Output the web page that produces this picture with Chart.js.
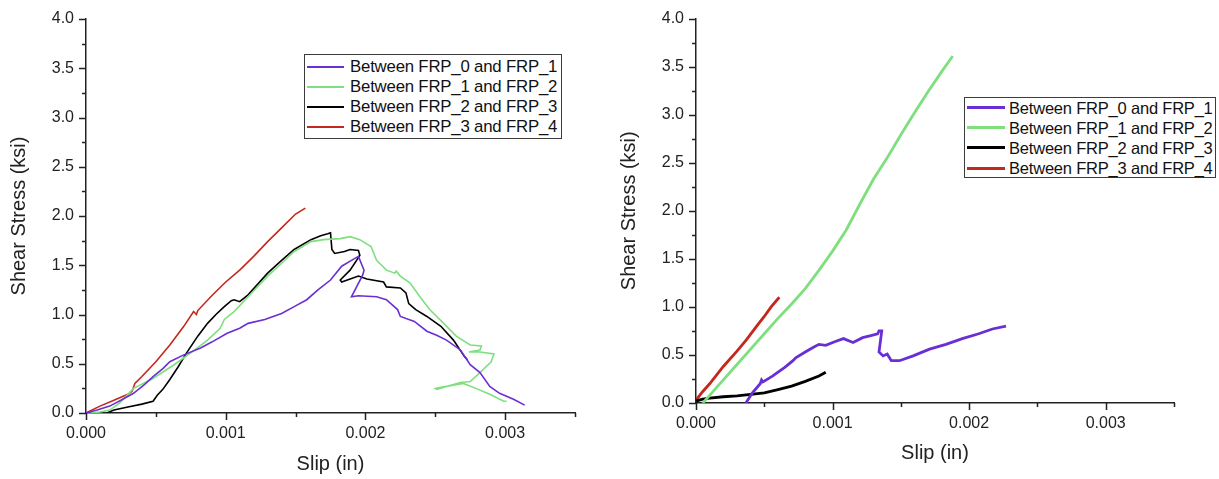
<!DOCTYPE html>
<html>
<head>
<meta charset="utf-8">
<script src="https://cdn.jsdelivr.net/npm/chart.js@4.4.0/dist/chart.umd.min.js"></script>
<style>
  html, body { margin: 0; padding: 0; background: #fff; }
  body { width: 1219px; height: 479px; position: relative; overflow: hidden; font-family: "Liberation Sans", Arial, sans-serif; }
  canvas { position: absolute; top: 0; }
  .legend { position: absolute; border: 1px solid #3c3c3c; background: #fff; box-sizing: border-box; }
  .row { position: absolute; left: 0; height: 20px; white-space: nowrap; }
  .sw { position: absolute; }
  .lt { position: absolute; font-size: 16.5px; color: #111; line-height: 20px; top: 0; letter-spacing: -0.2px; }
</style>
</head>
<body>
<canvas id="c1" width="600" height="479" style="left:0px"></canvas>
<canvas id="c2" width="609" height="479" style="left:610px"></canvas>
<div id="lg1" class="legend" style="left:304px; top:54px; width:258px; height:85px;"></div>
<div id="lg2" class="legend" style="left:964px; top:97px; width:252px; height:81px;"></div>
<script>
// ---------- series names & colours ----------
const seriesNames = ["Between FRP_0 and FRP_1", "Between FRP_1 and FRP_2", "Between FRP_2 and FRP_3", "Between FRP_3 and FRP_4"];
const seriesColors = ["#6a2fd4", "#7fdf7f", "#000000", "#c4281c"];

// ---------- axis ticks ----------
const yTicks = [0.0, 0.5, 1.0, 1.5, 2.0, 2.5, 3.0, 3.5, 4.0];
const xTicks = [0.000, 0.001, 0.002, 0.003];

// ---------- LEFT chart data (slip in, stress ksi) ----------
const L01_slip = [0, 0.00008, 0.00017, 0.00025, 0.00034, 0.00042, 0.00048, 0.00055, 0.0006, 0.0007, 0.00082, 0.0009, 0.00101, 0.0011, 0.00116, 0.00128, 0.0014, 0.00149, 0.00158, 0.00166, 0.00175, 0.00183, 0.0019, 0.00195, 0.00199, 0.00198, 0.0019, 0.00195, 0.00208, 0.00215, 0.00223, 0.00225, 0.00235, 0.00244, 0.00251, 0.00258, 0.00268, 0.00275, 0.00282, 0.00289, 0.00296, 0.00306, 0.00314];
const L01_stress = [0, 0.03, 0.07, 0.13, 0.2, 0.29, 0.37, 0.45, 0.52, 0.59, 0.66, 0.72, 0.81, 0.86, 0.91, 0.95, 1.01, 1.08, 1.15, 1.25, 1.35, 1.49, 1.55, 1.59, 1.45, 1.40, 1.18, 1.19, 1.18, 1.15, 1.05, 0.98, 0.93, 0.83, 0.79, 0.74, 0.64, 0.49, 0.41, 0.27, 0.2, 0.14, 0.08];

const L12_slip = [0.00003, 0.0001, 0.00017, 0.00024, 0.00034, 0.00048, 0.00063, 0.00075, 0.00087, 0.00096, 0.00099, 0.00106, 0.00116, 0.0013, 0.0014, 0.00149, 0.00161, 0.0017, 0.00182, 0.00189, 0.00196, 0.00204, 0.00208, 0.00215, 0.00221, 0.00222, 0.00225, 0.00232, 0.00239, 0.00246, 0.00256, 0.00265, 0.00275, 0.00283, 0.00282, 0.00274, 0.00282, 0.00292, 0.0029, 0.00282, 0.00275, 0.00268, 0.00251, 0.0025, 0.00254, 0.0027, 0.00279, 0.00289, 0.00299, 0.00301];
const L12_stress = [0, 0.01, 0.03, 0.1, 0.25, 0.35, 0.49, 0.61, 0.74, 0.86, 0.95, 1.03, 1.18, 1.39, 1.52, 1.64, 1.74, 1.76, 1.77, 1.79, 1.76, 1.69, 1.55, 1.45, 1.42, 1.44, 1.39, 1.32, 1.18, 1.05, 0.91, 0.78, 0.69, 0.68, 0.64, 0.62, 0.62, 0.6, 0.52, 0.41, 0.32, 0.31, 0.24, 0.25, 0.26, 0.3, 0.25, 0.19, 0.12, 0.12];

const L23_slip = [0.00015, 0.0002, 0.0003, 0.0004, 0.00048, 0.00051, 0.00055, 0.0006, 0.00066, 0.00072, 0.0008, 0.00087, 0.00093, 0.00099, 0.00104, 0.00106, 0.0011, 0.00116, 0.0013, 0.0014, 0.00149, 0.00161, 0.00168, 0.00173, 0.00175, 0.00176, 0.00178, 0.00185, 0.00189, 0.00195, 0.00196, 0.00189, 0.00182, 0.00183, 0.00195, 0.00201, 0.00213, 0.00215, 0.00225, 0.00229, 0.00231, 0.00236, 0.00244, 0.00254, 0.00263, 0.00271, 0.00273];
const L23_stress = [0, 0.03, 0.06, 0.09, 0.12, 0.18, 0.24, 0.34, 0.47, 0.61, 0.78, 0.91, 1.0, 1.08, 1.14, 1.15, 1.13, 1.2, 1.42, 1.55, 1.66, 1.76, 1.8, 1.82, 1.83, 1.66, 1.62, 1.64, 1.66, 1.65, 1.6, 1.45, 1.35, 1.33, 1.39, 1.36, 1.33, 1.28, 1.27, 1.22, 1.11, 1.05, 0.98, 0.88, 0.74, 0.57, 0.54];

const L34_slip = [0, 0.0001, 0.0002, 0.0003, 0.00033, 0.00035, 0.0004, 0.0005, 0.0006, 0.0007, 0.00077, 0.00079, 0.0008, 0.0009, 0.001, 0.0011, 0.0012, 0.0013, 0.0014, 0.0015, 0.00157];
const L34_stress = [0, 0.07, 0.13, 0.19, 0.22, 0.3, 0.37, 0.52, 0.69, 0.88, 1.03, 1.0, 1.04, 1.19, 1.33, 1.45, 1.59, 1.74, 1.88, 2.02, 2.08];

// ---------- RIGHT chart data ----------
const R01_slip = [0.000365, 0.00041, 0.00047, 0.00048, 0.00049, 0.00056, 0.00059, 0.00065, 0.00071, 0.00073, 0.0008, 0.00086, 0.0009, 0.00095, 0.00102, 0.00108, 0.00115, 0.00122, 0.00128, 0.00133, 0.00134, 0.00136, 0.00134, 0.00137, 0.0014, 0.00143, 0.00149, 0.00159, 0.00171, 0.00183, 0.00195, 0.00207, 0.00217, 0.00227];
const R01_stress = [0, 0.1, 0.2, 0.24, 0.22, 0.28, 0.31, 0.37, 0.44, 0.47, 0.53, 0.58, 0.61, 0.6, 0.64, 0.67, 0.63, 0.68, 0.7, 0.72, 0.75, 0.75, 0.53, 0.49, 0.51, 0.44, 0.44, 0.49, 0.56, 0.61, 0.67, 0.72, 0.77, 0.8];

const R12_slip = [0.00005, 0.0001, 0.0002, 0.0003, 0.0004, 0.0005, 0.0006, 0.0007, 0.0008, 0.0009, 0.001, 0.0011, 0.0012, 0.0013, 0.0014, 0.0015, 0.0016, 0.0017, 0.0018, 0.00188];
const R12_stress = [0, 0.08, 0.24, 0.4, 0.56, 0.72, 0.88, 1.03, 1.19, 1.38, 1.58, 1.8, 2.07, 2.33, 2.55, 2.79, 3.02, 3.24, 3.45, 3.61];

const R23_slip = [0, 0.00005, 0.0001, 0.0002, 0.0003, 0.0004, 0.0005, 0.0006, 0.0007, 0.0008, 0.0009, 0.00095];
const R23_stress = [0.02, 0.04, 0.05, 0.065, 0.075, 0.09, 0.105, 0.14, 0.175, 0.225, 0.28, 0.32];

const R34_slip = [0, 0.00005, 0.0001, 0.0002, 0.0003, 0.00037, 0.00045, 0.0005, 0.00055, 0.00061];
const R34_stress = [0.03, 0.12, 0.2, 0.38, 0.54, 0.66, 0.81, 0.9, 1.0, 1.1];

// ---------- helpers ----------
function pts(xs, ys) { return xs.map((x, i) => ({ x: x, y: ys[i] })); }

const FONT = "'Liberation Sans', Arial, sans-serif";

const tickPlugin = {
  id: 'originTicks',
  afterDraw(chart) {
    const ctx = chart.ctx;
    const xs = chart.scales.x, ys = chart.scales.y;
    const a = chart.chartArea;
    ctx.save();
    ctx.strokeStyle = '#222';
    ctx.lineWidth = 1.5;
    ctx.beginPath();
    for (let k = 0; k <= 7; k++) {
      const v = k * 0.0005;
      const px = Math.round(xs.getPixelForValue(v)) + 0.5;
      const len = (k % 2 === 0) ? 7 : 4;
      ctx.moveTo(px, a.bottom);
      ctx.lineTo(px, a.bottom + len);
    }
    for (let k = 0; k <= 16; k++) {
      const v = k * 0.25;
      const py = Math.round(ys.getPixelForValue(v)) + 0.5;
      const len = (k % 2 === 0) ? 7 : 4;
      ctx.moveTo(a.left, py);
      ctx.lineTo(a.left - len, py);
    }
    ctx.stroke();
    ctx.restore();
  }
};

function makeChart(id, sets, lw, padRight, padTop, xHeight, xTitlePad, yTitlePad) {
  const datasets = sets.map((s, i) => ({
    label: seriesNames[i],
    data: pts(s[0], s[1]),
    borderColor: seriesColors[i],
    backgroundColor: seriesColors[i],
    borderWidth: lw,
    pointRadius: 0,
    pointHoverRadius: 0,
    showLine: true,
    tension: 0,
    fill: false
  }));
  return new Chart(document.getElementById(id), {
    type: 'scatter',
    data: { datasets },
    options: {
      responsive: false,
      devicePixelRatio: 1,
      animation: false,
      layout: { autoPadding: false, padding: { left: 0, right: padRight, top: padTop, bottom: 0 } },
      plugins: { legend: { display: false }, tooltip: { enabled: false } },
      scales: {
        x: {
          type: 'linear', min: 0, max: 0.0035,
          afterFit(scale) { scale.height = xHeight; scale.paddingLeft = 0; scale.paddingRight = 0; },
          grid: { display: true, drawOnChartArea: false, drawTicks: false },
          border: { display: true, color: '#222', width: 1.5 },
          ticks: {
            stepSize: 0.0005, padding: 11, color: '#222',
            font: { family: FONT, size: 16 },
            maxRotation: 0, autoSkip: false,
            callback(v) {
              const m = xTicks.find(t => Math.abs(t - v) < 1e-9);
              return m === undefined ? '' : m.toFixed(3);
            }
          },
          title: { display: true, text: 'Slip (in)', color: '#222', font: { family: FONT, size: 20 }, padding: { top: 0, bottom: xTitlePad } }
        },
        y: {
          type: 'linear', min: 0, max: 4,
          afterFit(scale) { scale.width = 86; scale.paddingTop = 0; scale.paddingBottom = 0; },
          grid: { display: true, drawOnChartArea: false, drawTicks: false },
          border: { display: true, color: '#222', width: 1.5 },
          ticks: {
            stepSize: 0.5, padding: 12, color: '#222',
            font: { family: FONT, size: 16 },
            callback(v) {
              const m = yTicks.find(t => Math.abs(t - v) < 1e-9);
              return m === undefined ? '' : m.toFixed(1);
            }
          },
          title: { display: true, text: 'Shear Stress (ksi)', color: '#222', font: { family: FONT, size: 20 }, padding: { top: yTitlePad, bottom: 0 } }
        }
      }
    },
    plugins: [tickPlugin]
  });
}

makeChart('c1', [[L01_slip, L01_stress], [L12_slip, L12_stress], [L23_slip, L23_stress], [L34_slip, L34_stress]], 1.6, 25, 19, 66, 3, 7);
makeChart('c2', [[R01_slip, R01_stress], [R12_slip, R12_stress], [R23_slip, R23_stress], [R34_slip, R34_stress]], 2.8, 45, 18.5, 76, 14, 7.5);

function buildLegend(id, firstRow, rowStep, swL, swW, swH, textL, fs) {
  const el = document.getElementById(id);
  seriesNames.forEach((name, i) => {
    const row = document.createElement('div');
    row.className = 'row';
    row.style.top = (firstRow + i * rowStep - 10) + 'px';
    row.style.width = '100%';
    const sw = document.createElement('div');
    sw.className = 'sw';
    sw.style.left = swL + 'px';
    sw.style.width = swW + 'px';
    sw.style.height = swH + 'px';
    sw.style.top = (10 - swH / 2) + 'px';
    sw.style.background = seriesColors[i];
    const t = document.createElement('div');
    t.className = 'lt';
    t.style.left = textL + 'px';
    t.style.fontSize = fs + 'px';
    t.textContent = name;
    row.appendChild(sw); row.appendChild(t);
    el.appendChild(row);
  });
}
buildLegend('lg1', 12, 20, 2, 37, 2, 45, 16.8);
buildLegend('lg2', 9.5, 20.2, 2, 38, 3, 44, 16.5);
</script>
</body>
</html>
